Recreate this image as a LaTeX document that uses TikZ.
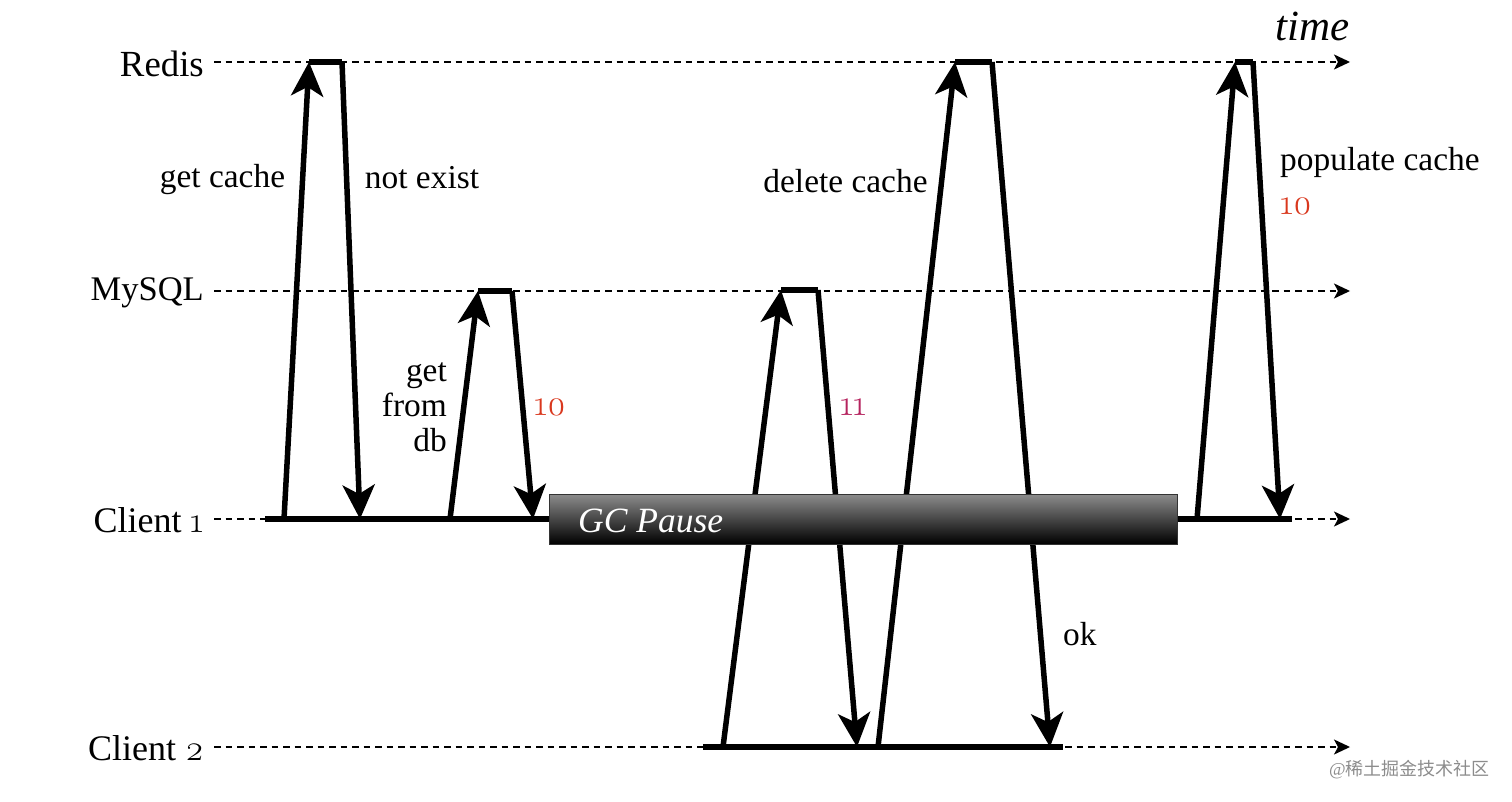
\documentclass[tikz,border=0pt]{standalone}
\usepackage{fontspec}
\setmainfont{Liberation Serif}
\newfontfamily\numfont[Numbers=OldStyle]{Latin Modern Roman}
\newfontfamily\cjk{Noto Sans CJK SC}
\usetikzlibrary{arrows.meta,calc}
\definecolor{numred}{HTML}{D9381E}
\definecolor{numpink}{HTML}{B5235E}
\tikzstyle{lane} = [anchor=east, inner sep=0pt, font=\fontsize{36}{36}\selectfont]
\tikzstyle{note} = [inner sep=0pt, font=\fontsize{33.4}{33.4}\selectfont]
\tikzstyle{num} = [inner sep=0pt, anchor=west, font=\fontsize{36}{36}\selectfont\numfont]
\tikzstyle{timeline} = [line width=1.8pt, dash pattern=on 6.5pt off 5pt, -{Stealth[length=16pt,width=15pt,inset=4pt]}]
\tikzstyle{busy} = [line width=5.5pt]
\tikzstyle{arrow} = [line width=5.5pt, -{Stealth[length=34pt,width=32pt,inset=9pt]}]
\tikzstyle{pause} = [rectangle, anchor=west, minimum width=628pt, minimum height=50pt, inner sep=0pt, draw=black!80, line width=1pt, top color=black!45, bottom color=black]

\begin{document}
\begin{tikzpicture}[x=1pt, y=-1pt]
        \useasboundingbox (0,0) rectangle (1512,802);

        % lanes
        \node (redis) [lane, font=\fontsize{36.8}{36.8}\selectfont] at (204,64) {Redis};
        \node (mysql) [lane, font=\fontsize{34.5}{34.5}\selectfont] at (204,293) {MySQL};
        \node (client1) [lane] at (204,520) {Client {\numfont 1}};
        \node (client2) [lane] at (204,748) {Client {\numfont 2}};
        \node (time) [anchor=east, inner sep=0pt, font=\fontsize{43}{43}\selectfont\itshape] at (1350,26) {time};

        \coordinate (redisE) at (1350,62);
        \coordinate (mysqlE) at (1350,291);
        \coordinate (client1E) at (1350,519);
        \coordinate (client2E) at (1350,747);
        \draw [timeline] (redis.east |- redisE) ++(10,0) -- (redisE);
        \draw [timeline] (mysql.east |- mysqlE) ++(10,0) -- (mysqlE);
        \draw [timeline] (client1.east |- client1E) ++(10,0) -- (client1E);
        \draw [timeline] (client2.east |- client2E) ++(10,0) -- (client2E);

        % points on the lanes
        \coordinate (a1) at (284,519);
        \coordinate (a2) at (309,62);
        \coordinate (a3) at (342,62);
        \coordinate (a4) at (360,519);
        \coordinate (b1) at (450,519);
        \coordinate (b2) at (478,291);
        \coordinate (b3) at (512,291);
        \coordinate (b4) at (533,519);
        \coordinate (c1) at (723,747);
        \coordinate (c2) at (781,290);
        \coordinate (c3) at (818,290);
        \coordinate (c4) at (857,747);
        \coordinate (d1) at (878,747);
        \coordinate (d2) at (955,62);
        \coordinate (d3) at (992,62);
        \coordinate (d4) at (1050,747);
        \coordinate (e1) at (1197,519);
        \coordinate (e2) at (1235,62);
        \coordinate (e3) at (1253,62);
        \coordinate (e4) at (1280,519);

        % busy stretches
        \coordinate (busyA) at (265,519);
        \coordinate (busyB) at (552,519);
        \coordinate (busyC) at (1177,519);
        \coordinate (busyD) at (1292,519);
        \coordinate (busyE) at (703,747);
        \coordinate (busyF) at (1063,747);
        \draw [busy] (busyA) -- (busyB);
        \draw [busy] (busyC) -- (busyD);
        \draw [busy] (busyE) -- (busyF);
        \draw [busy] (a2) -- (a3);
        \draw [busy] (b2) -- (b3);
        \draw [busy] (c2) -- (c3);
        \draw [busy] (d2) -- (d3);
        \draw [busy] (e2) -- (e3);

        % requests and replies
        \draw [arrow] (a1) -- (a2);
        \draw [arrow] (a3) -- (a4);
        \draw [arrow] (b1) -- (b2);
        \draw [arrow] (b3) -- (b4);
        \draw [arrow] (c1) -- (c2);
        \draw [arrow] (c3) -- (c4);
        \draw [arrow] (d1) -- (d2);
        \draw [arrow] (d3) -- (d4);
        \draw [arrow] (e1) -- (e2);
        \draw [arrow] (e3) -- (e4);

        \node (gc) [pause] at (549,519) {};
        \node (gctext) [anchor=west, inner sep=0pt, text=white, font=\fontsize{35.5}{35.5}\selectfont\itshape] at (578,521) {GC Pause};

        \node (getcache) [note] at (222.5,180) {get cache};
        \node (notexist) [note] at (422,178) {not exist};
        \node (getdb) [note, anchor=east, align=right, font=\fontsize{33.4}{35}\selectfont] at (447,407) {get\\from\\db};
        \node (delcache) [note] at (845.5,181) {delete cache};
        \node (popcache) [note, anchor=west] at (1280,162) {populate cache};
        \node (ok) [note, anchor=west] at (1063,634) {ok};
        \node (numA) [num, text=numred] at (534,407) {10};
        \node (numB) [num, text=numpink] at (840,407) {11};
        \node (numC) [num, text=numred] at (1280,206) {10};
        \node (mark) [anchor=east, inner sep=0pt, text=black!45, font=\fontsize{18}{18}\selectfont] at (1490,770) {@{\cjk 稀土掘金技术社区}};
    \end{tikzpicture}
\end{document}
